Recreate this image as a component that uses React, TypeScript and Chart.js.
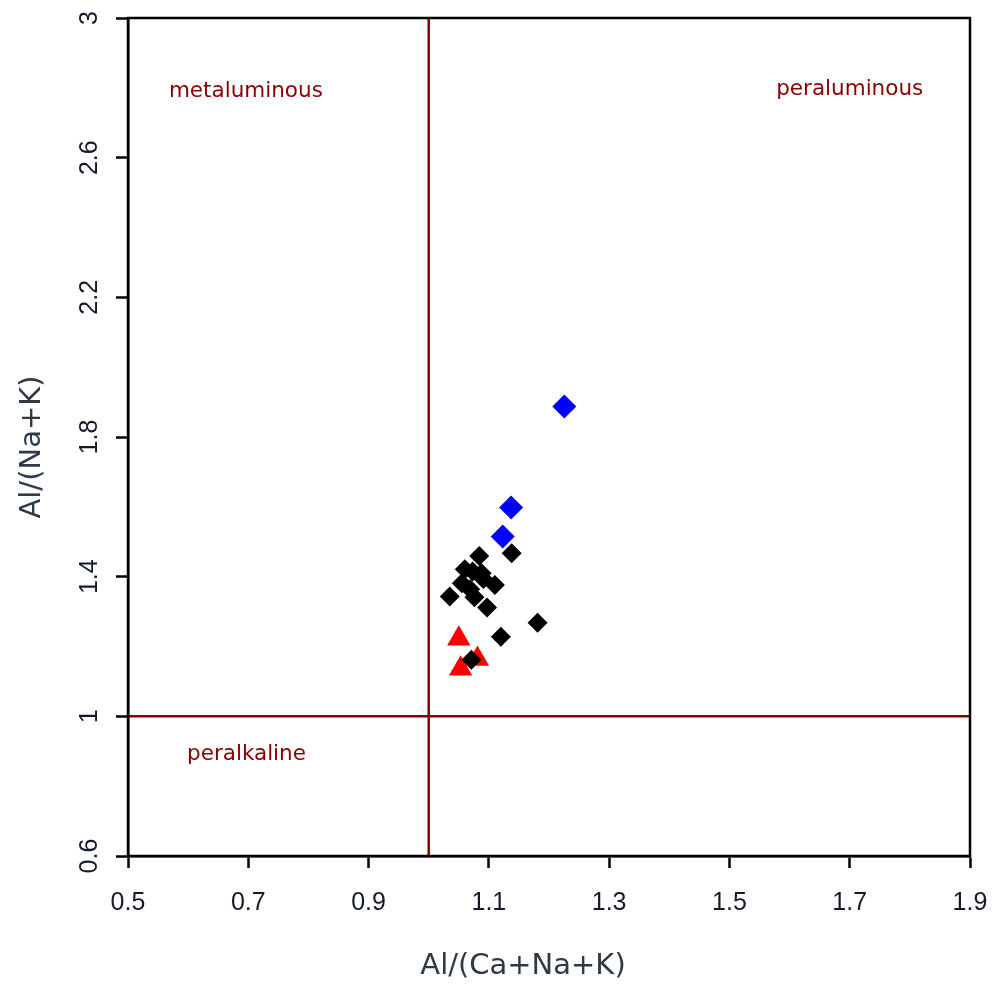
import React, { useEffect, useRef } from 'react';
import { Chart, registerables } from 'chart.js';

Chart.register(...registerables);

// ---- data ----
const blackX = [1.138, 1.084, 1.060, 1.088, 1.073, 1.055, 1.091, 1.069, 1.076, 1.110, 1.035, 1.097, 1.181, 1.120, 1.071];
const blackY = [1.467, 1.459, 1.421, 1.410, 1.415, 1.381, 1.393, 1.364, 1.341, 1.376, 1.343, 1.312, 1.268, 1.228, 1.162];

const blueX = [1.2255, 1.137, 1.123];
const blueY = [1.887, 1.598, 1.515];

const redX = [1.050, 1.081, 1.053];
const redY = [1.222, 1.164, 1.136];

const xMin = 0.5;
const xMax = 1.9;
const xStep = 0.2;
const yMin = 0.6;
const yMax = 3;
const yStep = 0.4;

const boundaryX = 1;
const boundaryY = 1;

const regionLabels = ['metaluminous', 'peraluminous', 'peralkaline'];
const regionLabelX = [0.696, 1.70, 0.697];
const regionLabelY = [2.79, 2.795, 0.892];

const xTitle = 'Al/(Ca+Na+K)';
const yTitle = 'Al/(Na+K)';

const toPts = (xs: number[], ys: number[]) => xs.map((x, i) => ({ x, y: ys[i] }));

const DARKRED = '#8b0000';
const FONT = 'DejaVu Sans';
const TICKFONT = 'Liberation Sans';

const decorPlugin = {
  id: 'decor',
  afterDatasetsDraw(chart: any) {
    const { ctx, scales } = chart;
    const xs = scales.x;
    const ys = scales.y;
    ctx.save();
    ctx.fillStyle = DARKRED;
    ctx.font = `21.5px "${FONT}"`;
    ctx.textAlign = 'center';
    ctx.textBaseline = 'middle';
    regionLabels.forEach((t, i) => {
      ctx.fillText(t, xs.getPixelForValue(regionLabelX[i]), ys.getPixelForValue(regionLabelY[i]));
    });
    ctx.restore();
  },
  afterDraw(chart: any) {
    const { ctx, chartArea } = chart;
    ctx.save();
    ctx.strokeStyle = '#000';
    ctx.lineWidth = 2.5;
    ctx.strokeRect(chartArea.left, chartArea.top, chartArea.right - chartArea.left, chartArea.bottom - chartArea.top);
    ctx.fillStyle = '#2f3a48';
    ctx.font = `29px "${FONT}"`;
    ctx.textAlign = 'center';
    ctx.textBaseline = 'middle';
    ctx.fillText(xTitle, 523, 966);
    ctx.translate(32, 447);
    ctx.rotate(-Math.PI / 2);
    ctx.fillText(yTitle, 0, 0);
    ctx.restore();
  },
};

const fmt = (v: any) => String(Number(Number(v).toFixed(1)));

export default function App() {
  const ref = useRef<HTMLCanvasElement | null>(null);
  useEffect(() => {
    document.body.style.margin = '0';
    if (!ref.current) return;
    const chart = new Chart(ref.current, {
      type: 'scatter',
      data: {
        datasets: [
          {
            type: 'line',
            data: [{ x: boundaryX, y: yMin }, { x: boundaryX, y: yMax }],
            borderColor: DARKRED,
            borderWidth: 2.5,
            pointRadius: 0,
            showLine: true,
            fill: false,
            order: 5,
          } as any,
          {
            type: 'line',
            data: [{ x: xMin, y: boundaryY }, { x: xMax, y: boundaryY }],
            borderColor: DARKRED,
            borderWidth: 2.5,
            pointRadius: 0,
            showLine: true,
            fill: false,
            order: 5,
          } as any,
          {
            data: toPts(blackX, blackY),
            pointStyle: 'rectRot',
            pointRadius: 10,
            backgroundColor: '#000',
            borderColor: '#000',
            borderWidth: 0,
            order: 3,
          },
          {
            data: toPts(blueX, blueY),
            pointStyle: 'rectRot',
            pointRadius: 12,
            backgroundColor: '#0000ff',
            borderColor: '#0000ff',
            borderWidth: 0,
            order: 2,
          },
          {
            data: toPts(redX, redY),
            pointStyle: 'triangle',
            pointRadius: 13.5,
            backgroundColor: '#ff0000',
            borderColor: '#ff0000',
            borderWidth: 0,
            order: 4,
          },
        ],
      },
      options: {
        animation: false,
        responsive: false,
        devicePixelRatio: 1,
        layout: { padding: { left: 0, top: 18, right: 23, bottom: 0 } },
        plugins: { legend: { display: false }, tooltip: { enabled: false } },
        scales: {
          x: {
            type: 'linear',
            min: xMin,
            max: xMax,
            border: { display: true, color: '#000', width: 2.5 },
            grid: { drawOnChartArea: false, drawTicks: true, tickLength: 12, tickColor: '#000', tickWidth: 2.5 },
            ticks: {
              stepSize: xStep,
              autoSkip: false,
              maxRotation: 0,
              padding: 20,
              color: '#141a2a',
              font: { family: TICKFONT, size: 25 },
              callback: (v: any) => fmt(v),
            },
            afterFit: (s: any) => {
              s.height = 133;
              s.paddingLeft = 0;
              s.paddingRight = 0;
            },
          },
          y: {
            type: 'linear',
            min: yMin,
            max: yMax,
            border: { display: true, color: '#000', width: 2.5 },
            grid: { drawOnChartArea: false, drawTicks: true, tickLength: 12, tickColor: '#000', tickWidth: 2.5 },
            ticks: {
              stepSize: yStep,
              autoSkip: false,
              minRotation: 90,
              maxRotation: 90,
              crossAlign: 'center',
              padding: 9,
              color: '#141a2a',
              font: { family: TICKFONT, size: 25 },
              callback: (v: any) => fmt(v),
            },
            afterFit: (s: any) => {
              s.width = 128;
              s.paddingTop = 0;
              s.paddingBottom = 0;
            },
          },
        },
      } as any,
      plugins: [decorPlugin],
    });
    return () => chart.destroy();
  }, []);
  return (
    <div style={{ position: 'fixed', left: 0, top: 0, width: 993, height: 989, background: '#fff' }}>
      <canvas ref={ref} width={993} height={989} style={{ display: 'block', width: 993, height: 989 }} />
    </div>
  );
}
